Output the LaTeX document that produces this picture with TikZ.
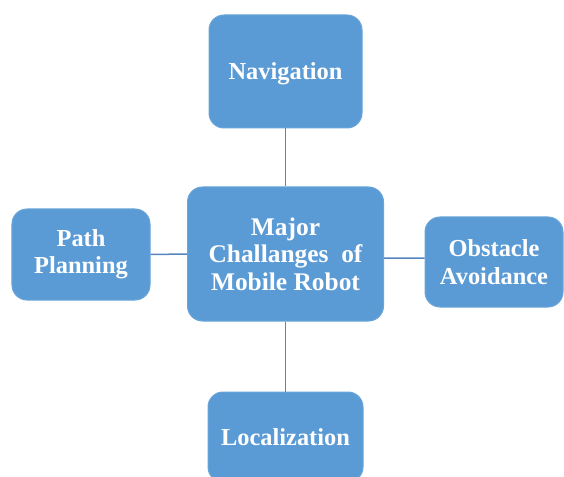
\documentclass[tikz,border=0pt]{standalone}
\usepackage{fontspec}
\setmainfont{Liberation Serif}
\definecolor{boxfill}{HTML}{5B9BD5}
\definecolor{boxedge}{HTML}{6AA5DA}
\definecolor{linkcol}{HTML}{5485BD}
\begin{document}
\begin{tikzpicture}[x=1bp,y=-1bp,
  box/.style={draw=boxedge, fill=boxfill, rounded corners=15bp, text=white,
    font=\bfseries\fontsize{24.5}{27.5}\selectfont, align=center, inner sep=0pt, line width=1bp},
  link/.style={draw=linkcol, line width=1.5bp}]
\useasboundingbox (0,0) rectangle (564,477);
\clip (0,0) rectangle (564,477);
\node[box, minimum width=153bp, minimum height=113bp, text depth=0pt] (nav) at (285.5,71.5) {Navigation};
\node[box, minimum width=196bp, minimum height=134bp, font=\bfseries\fontsize{25.5}{27.5}\selectfont] (core) at (285.5,254) {Major\\Challanges\hspace{0.5em}of\\Mobile Robot};
\node[box, minimum width=138bp, minimum height=91bp] (path) at (81,254.5) {Path\\Planning};
\node[box, minimum width=138bp, minimum height=90bp] (obst) at (494,262) {Obstacle\\Avoidance};
\node[box, minimum width=155bp, minimum height=90bp] (loc) at (285.5,437) {Localization};
\draw[link] (nav.south) -- (core.north);
\draw[link] (core.south) -- (loc.north);
\draw[link] (path.east) -- (core.west);
\draw[link] ([yshift=-4bp]core.east) -- ([yshift=4bp]obst.west);
\end{tikzpicture}
\end{document}
